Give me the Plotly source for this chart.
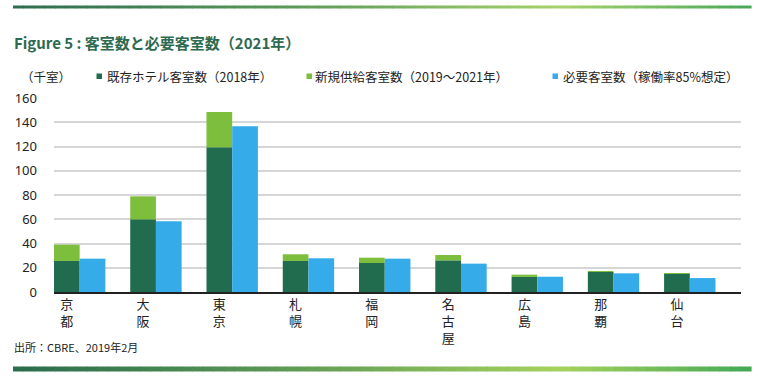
import plotly.graph_objects as go

# ---- data ----
cities = ["京<br>都", "大<br>阪", "東<br>京", "札<br>幌", "福<br>岡", "名<br>古<br>屋", "広<br>島", "那<br>覇", "仙<br>台"]
existing_2018 = [25.6, 59.9, 119.3, 25.6, 23.9, 26.1, 12.4, 16.5, 15.1]
new_supply_2019_2021 = [13.4, 19.0, 29.2, 5.5, 4.4, 4.4, 1.9, 0.5, 0.3]
required_rooms = [27.5, 58.3, 136.6, 27.8, 27.5, 23.4, 12.6, 15.4, 11.5]
y_ticks = [0, 20, 40, 60, 80, 100, 120, 140, 160]

series_names = ["既存ホテル客室数（2018年）", "新規供給客室数（2019～2021年）", "必要客室数（稼働率85%想定）"]
title_text = "Figure 5 : 客室数と必要客室数（2021年）"
unit_text = "（千室）"
source_text = "出所：CBRE、2019年2月"

C_DARK = "#216b4f"
C_LIGHT = "#7dbf3d"
C_BLUE = "#36abe9"

W, H = 760, 380
L, T = 54, 98
R = W - 741
B = H - 292
PW, PH = W - L - R, H - T - B

def px_x(x):
    return (x - L) / PW

def px_y(y):
    return (H - B - y) / PH

BW = 0.337
fig = go.Figure()
fig.add_trace(go.Bar(x=cities, y=existing_2018, name=series_names[0], marker=dict(color=C_DARK, line=dict(width=0)),
                     width=BW, offset=-BW / 2, showlegend=False))
fig.add_trace(go.Bar(x=cities, y=new_supply_2019_2021, base=existing_2018, name=series_names[1],
                     marker=dict(color=C_LIGHT, line=dict(width=0)), width=BW, offset=-BW / 2, showlegend=False))
fig.add_trace(go.Bar(x=cities, y=required_rooms, name=series_names[2], marker=dict(color=C_BLUE, line=dict(width=0)),
                     width=BW, offset=BW / 2, showlegend=False))

shapes = []
annotations = []

# legend squares + text
leg = [(96.5, 106, C_DARK, series_names[0]), (306.5, 313.5, C_LIGHT, series_names[1]), (552.5, 562, C_BLUE, series_names[2])]
for sx, tx, col, name in leg:
    shapes.append(dict(type="rect", xref="paper", yref="paper", x0=px_x(sx), x1=px_x(sx + 5.5),
                       y0=px_y(79), y1=px_y(73.5), fillcolor=col, line=dict(width=0)))
    annotations.append(dict(text=name, xref="paper", yref="paper", x=px_x(tx - 1), y=px_y(76), xanchor="left",
                            yanchor="middle", showarrow=False, font=dict(size=12.5, color="#222")))
annotations.append(dict(text=unit_text, xref="paper", yref="paper", x=px_x(19), y=px_y(76), xanchor="left",
                        yanchor="middle", showarrow=False, font=dict(size=12.5, color="#222")))
annotations.append(dict(text="<b>" + title_text + "</b>", xref="paper", yref="paper", x=px_x(12), y=px_y(43),
                        xanchor="left", yanchor="middle", showarrow=False,
                        font=dict(size=15, color="#2d6a4f", family="Noto Sans CJK JP")))
annotations.append(dict(text=source_text, xref="paper", yref="paper", x=px_x(12), y=px_y(347),
                        xanchor="left", yanchor="middle", showarrow=False,
                        font=dict(size=11, color="#222", family="Noto Sans CJK JP")))

# gradient decorative rules
def hex2rgb(h):
    h = h.lstrip("#")
    return tuple(int(h[i:i + 2], 16) for i in (0, 2, 4))

def grad_color(x, stops):
    for (x0, c0), (x1, c1) in zip(stops[:-1], stops[1:]):
        if x0 <= x <= x1:
            t = (x - x0) / (x1 - x0)
            a, b = hex2rgb(c0), hex2rgb(c1)
            return "rgb(%d,%d,%d)" % tuple(round(a[i] + (b[i] - a[i]) * t) for i in range(3))
    return stops[-1][1]

def add_rule(y0, y1, stops, n=70):
    xs, xe = 13, 751
    step = (xe - xs) / n
    for i in range(n):
        a = xs + i * step
        shapes.append(dict(type="rect", xref="paper", yref="paper", x0=px_x(a), x1=px_x(a + step + 0.6),
                           y0=px_y(y1), y1=px_y(y0), fillcolor=grad_color(a + step / 2, stops),
                           line=dict(width=0), layer="above"))

add_rule(5.5, 8.5, [(13, "#2c6c4e"), (300, "#5e9a5a"), (560, "#a6d26c"), (751, "#48a85a")])
add_rule(366.5, 371.5, [(13, "#2a6c4d"), (300, "#5f9c55"), (560, "#a6d25e"), (751, "#43a955")])

fig.update_layout(
    width=W, height=H,
    margin=dict(l=L, r=R, t=T, b=B, pad=0),
    paper_bgcolor="white", plot_bgcolor="white",
    barmode="overlay",
    font=dict(family="Noto Sans CJK JP, Noto Sans, sans-serif", color="#222"),
    shapes=shapes, annotations=annotations,
    xaxis=dict(type="category", range=[-0.168, 8.84], showgrid=False, showline=True, linecolor="#222",
               linewidth=1.5, ticks="", tickfont=dict(size=13, color="#222"), fixedrange=True),
    yaxis=dict(range=[0, 160], tickvals=y_ticks, showgrid=True, gridcolor="#d6d6d6", gridwidth=1.5,
               zeroline=False, showline=False, ticks="", ticklabelstandoff=16,
               tickfont=dict(size=13, color="#222", family="Noto Sans, sans-serif")),
)

# remove the browser's default 8px body margin so the figure sits at the window origin
fig.write_html("out.html", config={"displayModeBar": False},
               post_script="document.body.style.margin='0';document.body.style.overflow='hidden';")
